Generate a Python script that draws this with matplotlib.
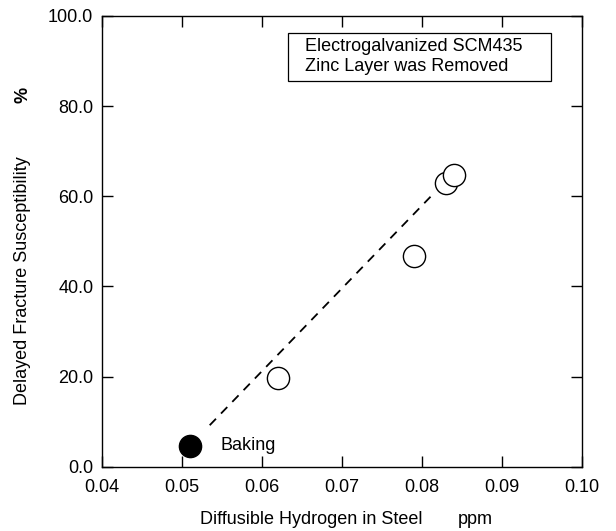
import matplotlib.pyplot as plt
from matplotlib.patches import Rectangle
from matplotlib.ticker import FormatStrFormatter

plt.rcParams['font.family'] = ['Liberation Sans', 'DejaVu Sans']

# Data
open_h = [0.062, 0.079, 0.083, 0.084]
open_dfs = [19.7, 46.7, 62.9, 64.7]
baked_h = [0.051]
baked_dfs = [4.7]
trend_h = [0.0535, 0.0817]
trend_dfs = [9.2, 61.0]

fig = plt.figure(figsize=(6.16, 5.31), dpi=100)
ax = fig.add_axes([101.7 / 616, 1 - 466.7 / 531, 480 / 616, 450.7 / 531])

ax.plot(trend_h, trend_dfs, color='black', linestyle=(0, (5, 4)), linewidth=1.3)
ax.plot(open_h, open_dfs, 'o', markersize=16, markerfacecolor='white',
        markeredgecolor='black', markeredgewidth=1.0, linestyle='none')
ax.plot(baked_h, baked_dfs, 'o', markersize=16, color='black', linestyle='none')
ax.text(0.0548, baked_dfs[0], 'Baking', fontsize=13, va='center')

ax.set_xlim(0.04, 0.10)
ax.set_ylim(0, 100)
ax.set_xticks([0.04, 0.05, 0.06, 0.07, 0.08, 0.09, 0.10])
ax.set_yticks([0, 20, 40, 60, 80, 100])
ax.xaxis.set_major_formatter(FormatStrFormatter('%.2f'))
ax.yaxis.set_major_formatter(FormatStrFormatter('%.1f'))
ax.tick_params(direction='in', length=8, width=1, labelsize=13,
               top=True, right=True, pad=6)
ax.tick_params(axis='x', pad=9)
for s in ax.spines.values():
    s.set_linewidth(1.0)

# note box
ax.add_patch(Rectangle((0.388, 0.856), 0.547, 0.107, transform=ax.transAxes,
                       facecolor='white', edgecolor='black', linewidth=0.9, zorder=3))
ax.text(0.4235, 0.9095, 'Electrogalvanized SCM435\nZinc Layer was Removed',
        transform=ax.transAxes, fontsize=13, va='center', ha='left',
        linespacing=1.2, zorder=4)

fig.text(200 / 616, 1 - 520 / 531, 'Diffusible Hydrogen in Steel', fontsize=13,
         ha='left', va='center')
fig.text(458 / 616, 1 - 520 / 531, 'ppm', fontsize=13, ha='left', va='center')
fig.text(23 / 616, 1 - 281 / 531, 'Delayed Fracture Susceptibility', fontsize=13,
         rotation=90, ha='center', va='center')
fig.text(23 / 616, 1 - 95 / 531, '%', fontsize=13, fontweight='bold',
         rotation=90, ha='center', va='center')

fig.savefig('out.png', dpi=100)
